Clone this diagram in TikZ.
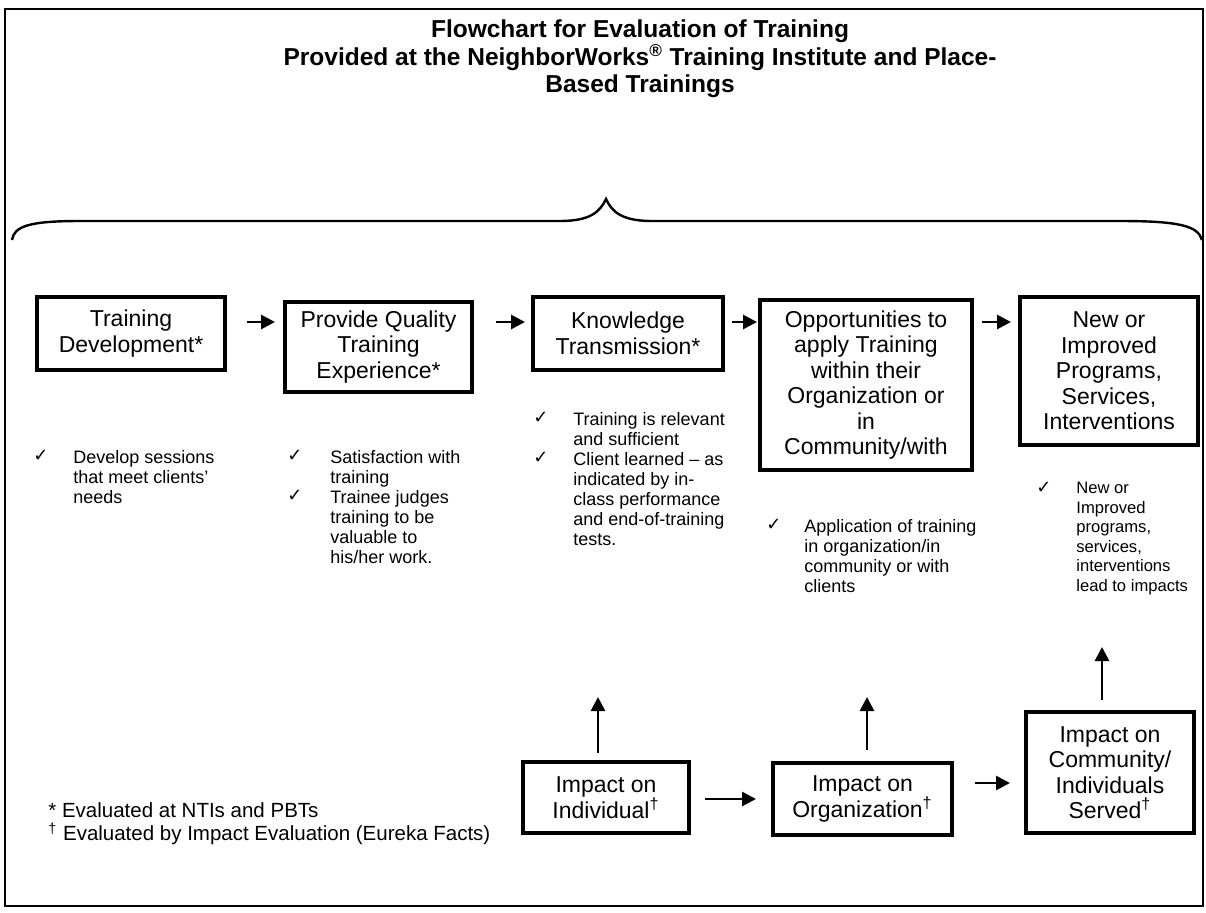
\documentclass[tikz,border=0pt]{standalone}
\usepackage{fontspec}
\setmainfont{Liberation Sans}
\newfontfamily\dejavu{DejaVu Sans}
\usetikzlibrary{arrows.meta}
\begin{document}
\begin{tikzpicture}[x=0.5pt,y=-0.5pt,
  box/.style={draw,line width=2pt,align=center,inner sep=0pt,
    font=\fontsize{11.5}{12.75}\selectfont},
  arr/.style={line width=1.4pt,-{Triangle[length=7pt,width=7pt]}},
  chk/.style={anchor=north west,inner sep=0pt,font=\dejavu\fontsize{9}{10}\selectfont},
  bul/.style={anchor=north west,inner sep=0pt,align=left,font=\fontsize{9}{10}\selectfont},
  bulsm/.style={anchor=north west,inner sep=0pt,align=left,font=\fontsize{8.3}{9.75}\selectfont}]
\useasboundingbox (0,0) rectangle (1206,912);
\fill[white] (0,0) rectangle (1206,912);
% frame
\draw[line width=1.1pt] (5,9) rectangle (1203,906);
% title
\node[align=center,font=\bfseries\fontsize{12.25}{13.75}\selectfont] (title) at (640,59)
  {Flowchart for Evaluation of Training\\
   Provided at the NeighborWorks\textsuperscript{®} Training Institute and Place-\\
   Based Trainings};
% brace
\draw[line width=1.2pt] (12,240) .. controls (14,226) and (30,221) .. (80,221)
  -- (560,221) .. controls (590,221) and (600,212) .. (606,199)
  .. controls (612,212) and (622,221) .. (652,221)
  -- (1120,221) .. controls (1180,221) and (1198,226) .. (1202,240);
% top boxes
\node[box,minimum width=94pt,minimum height=36.5pt] (B1) at (131,333.5) {Training\\Development*};
\node[box,minimum width=93.5pt,minimum height=45pt] (B2) at (378.5,347) {Provide Quality\\Training\\Experience*};
\node[box,minimum width=95pt,minimum height=36.5pt] (B3) at (628,333.5) {Knowledge\\Transmission*};
\node[box,minimum width=106pt,minimum height=85pt] (B4) at (866,385) {Opportunities to\\apply Training\\within their\\Organization or\\in\\Community/with};
\node[box,minimum width=89pt,minimum height=74pt] (B5) at (1109,371) {New or\\Improved\\Programs,\\Services,\\Interventions};
% bottom boxes
\node[box,minimum width=83pt,minimum height=35.5pt] (BI) at (606,797.5) {Impact on\\Individual\textsuperscript{†}};
\node[box,minimum width=89.5pt,minimum height=36pt] (BO) at (862.5,799) {Impact on\\Organization\textsuperscript{†}};
\node[box,minimum width=84pt,minimum height=60.5pt] (BC) at (1110,772.5) {Impact on\\Community/\\Individuals\\Served\textsuperscript{†}};
% top arrows
\coordinate (r1) at (0,322);
\draw[arr,shorten <=10pt,shorten >=4pt] (B1.east |- r1) -- (B2.west |- r1);
\draw[arr,shorten <=11pt,shorten >=3pt] (B2.east |- r1) -- (B3.west |- r1);
\draw[arr,shorten <=3.5pt,shorten >=0.5pt] (B3.east |- r1) -- (B4.west |- r1);
\draw[arr,shorten <=4pt,shorten >=3.5pt] (B4.east |- r1) -- (B5.west |- r1);
% bottom arrows
\coordinate (r2) at (0,799);
\coordinate (r3) at (0,783);
\draw[arr,shorten <=7pt,shorten >=7.5pt] (BI.east |- r2) -- (BO.west |- r2);
\draw[arr,shorten <=10.5pt,shorten >=7pt] (BO.east |- r3) -- (BC.west |- r3);
% up arrows
\coordinate (t1) at (598,697);
\coordinate (t2) at (867,697);
\coordinate (t3) at (1102,647);
\draw[arr,shorten <=3.5pt] (BI.north -| t1) -- (t1);
\draw[arr,shorten <=5.5pt] (BO.north -| t2) -- (t2);
\draw[arr,shorten <=5pt] (BC.north -| t3) -- (t3);
% bullets
\node[chk] (c1) at (33,450) {✓};
\node[bul] (g1) at (73,450) {Develop sessions\\that meet clients'\\needs};
\node[chk] (c2a) at (287,450) {✓};
\node[bul] (g2a) at (330,450) {Satisfaction with\\training};
\node[chk] (c2b) at (287,490) {✓};
\node[bul] (g2b) at (330,490) {Trainee judges\\training to be\\valuable to\\his/her work.};
\node[chk] (c3a) at (533,412) {✓};
\node[bul] (g3a) at (573,412) {Training is relevant\\and sufficient};
\node[chk] (c3b) at (533,452) {✓};
\node[bul] (g3b) at (573,452) {Client learned – as\\indicated by in-\\class performance\\and end-of-training\\tests.};
\node[chk] (c4) at (766,519) {✓};
\node[bul] (g4) at (804,519) {Application of training\\in organization/in\\community or with\\clients};
\node[chk] (c5) at (1036,482) {✓};
\node[bulsm] (g5) at (1076,482) {New or\\Improved\\programs,\\services,\\interventions\\lead to impacts};
% footnotes
\node[anchor=north west,inner sep=0pt,align=left,font=\fontsize{10.25}{11.5}\selectfont] (fn) at (48,802)
  {* Evaluated at NTIs and PBTs\\\textsuperscript{†} Evaluated by Impact Evaluation (Eureka Facts)};
\end{tikzpicture}
\end{document}
